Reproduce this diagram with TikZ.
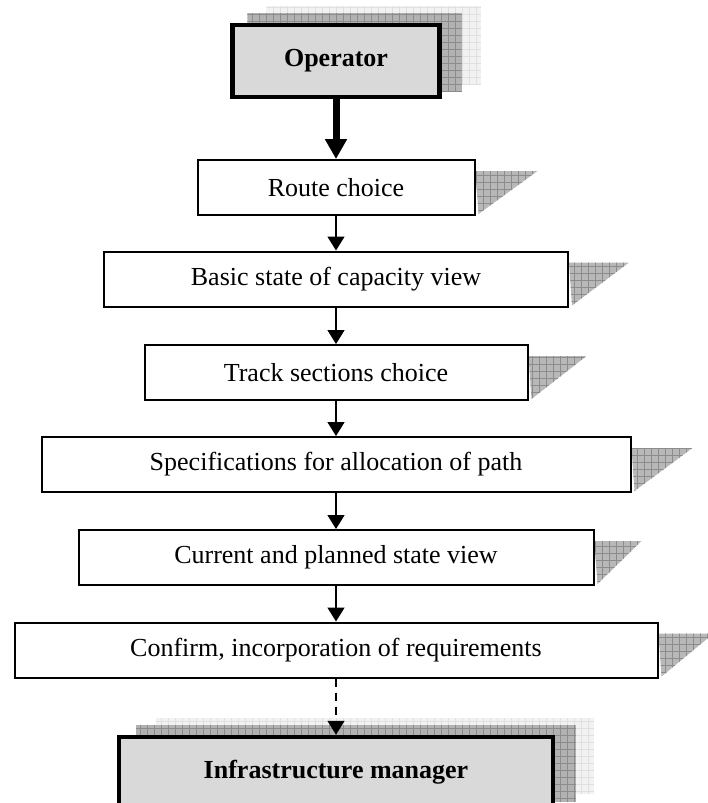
\documentclass[tikz,border=0pt]{standalone}
\usepackage{fontspec}
\setmainfont{Liberation Serif}
\usetikzlibrary{arrows.meta,backgrounds}

% grey cross-hatched area
\newcommand{\gridrect}[4]{%
  \begin{scope}
    \clip #3 rectangle #4;
    \fill[#1] #3 rectangle #4;
    \draw[#2, line width=0.5pt, step=7pt] #3 grid #4;
  \end{scope}}
% folded shadow right of a step box
\newcommand{\pageshadow}[2]{%
  \begin{scope}
    \clip ([yshift=-12pt]#1.north east) -- ++(#2,0) -- ([xshift=3pt,yshift=2pt]#1.south east) -- cycle;
    \fill[black!28] (#1.north east) rectangle ++(#2,70);
    \draw[black!45, line width=0.5pt, step=7pt] (#1.north east) grid ++(#2,70);
  \end{scope}}

\tikzset{
  stepbox/.style={draw, line width=2pt, fill=white, minimum height=55pt, inner sep=0pt,
    font=\fontsize{26pt}{30pt}\selectfont},
  actorbox/.style={draw, line width=4.5pt, fill=black!15, minimum height=72pt, inner sep=0pt,
    font=\fontsize{26pt}{30pt}\selectfont\bfseries},
  flow/.style={line width=1.6pt, -{Triangle[length=14pt,width=17pt]}},
}

\begin{document}
\begin{tikzpicture}[x=1pt, y=-1pt]
    \clip (0, 0) rectangle (707, 803);

    \node[actorbox, minimum width=207pt] (op) at (336, 61) {Operator};
    \node[stepbox, minimum width=277pt] (route) at (336, 187.5) {Route choice};
    \node[stepbox, minimum width=464pt] (basic) at (336, 279) {Basic state of capacity view};
    \node[stepbox, minimum width=383pt] (track) at (336, 372.5) {Track sections choice};
    \node[stepbox, minimum width=589pt] (spec) at (336, 464.5) {Specifications for allocation of path};
    \node[stepbox, minimum width=515pt] (current) at (336, 557.5) {Current and planned state view};
    \node[stepbox, minimum width=643pt] (confirm) at (336, 650) {Confirm, incorporation of requirements};
    \node[actorbox, minimum width=434pt, minimum height=70pt] (infra) at (336, 772) {Infrastructure manager};

    \begin{scope}[on background layer]
        \fill[white] (0, 0) rectangle (707, 803);
        \gridrect{black!5}{black!12}{([xshift=36pt,yshift=17pt]op.north west)}{([xshift=39pt,yshift=15pt]op.south east)}
        \gridrect{black!30}{black!45}{([xshift=17pt,yshift=10pt]op.north west)}{([xshift=20pt,yshift=7pt]op.south east)}
        \gridrect{black!5}{black!12}{([xshift=39pt,yshift=17pt]infra.north west)}{([xshift=39pt,yshift=15pt]infra.south east)}
        \gridrect{black!30}{black!45}{([xshift=19pt,yshift=10pt]infra.north west)}{([xshift=21pt,yshift=7pt]infra.south east)}
        \pageshadow{route}{62}
        \pageshadow{basic}{60}
        \pageshadow{track}{58}
        \pageshadow{spec}{61}
        \pageshadow{current}{47}
        \pageshadow{confirm}{55}
    \end{scope}

    \draw[line width=7pt, -{Triangle[length=20pt,width=21pt]}] (op) -- (route);
    \draw[flow] (route) -- (basic);
    \draw[flow] (basic) -- (track);
    \draw[flow] (track) -- (spec);
    \draw[flow] (spec) -- (current);
    \draw[flow] (current) -- (confirm);
    \draw[flow, dash pattern=on 8pt off 6pt] (confirm) -- (infra);
\end{tikzpicture}
\end{document}
